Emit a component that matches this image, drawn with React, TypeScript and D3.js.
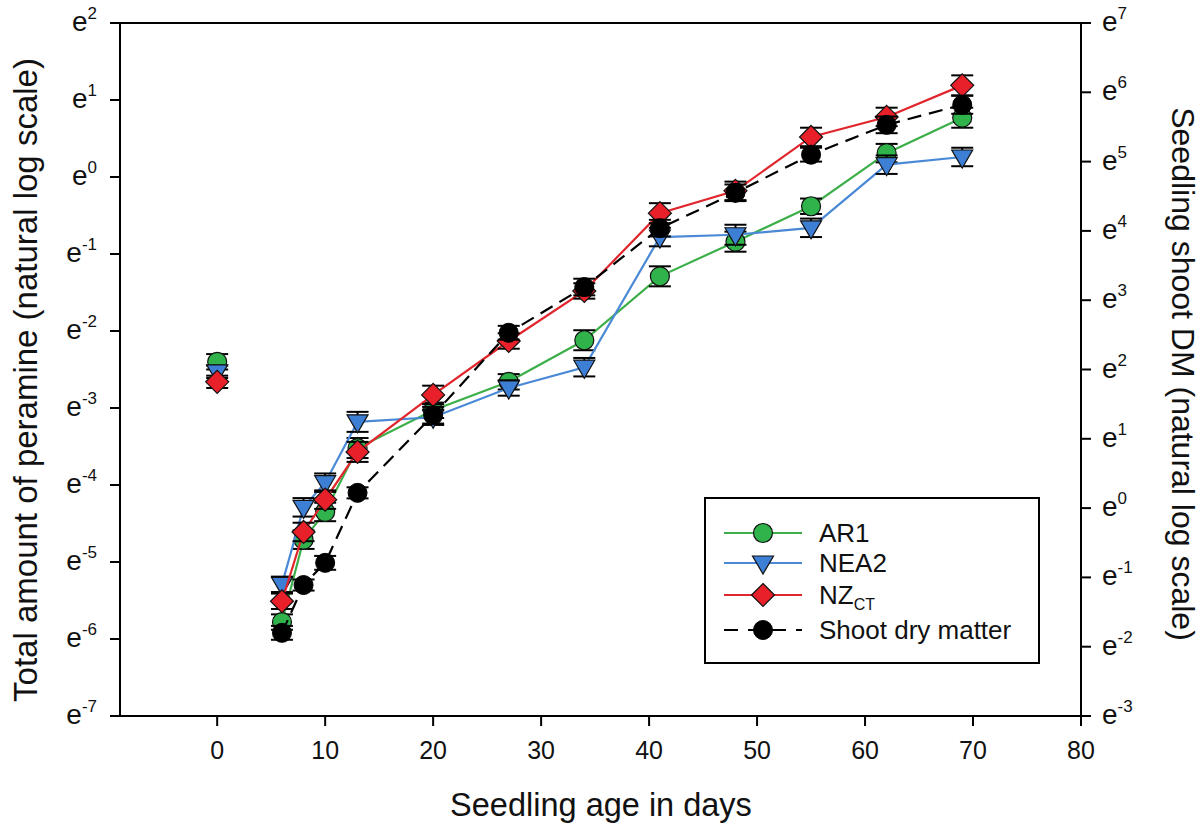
import React from 'react';
import * as d3 from 'd3';

// ---- data (natural log values) ----
const days = [0, 6, 8, 10, 13, 20, 27, 34, 41, 48, 55, 62, 69];
const ar1 = [-2.40, -5.78, -4.71, -4.35, -3.52, -3.03, -2.66, -2.12, -1.29, -0.84, -0.38, 0.31, 0.77];
const ar1Err = [0.10, 0.10, 0.12, 0.12, 0.13, 0.10, 0.10, 0.13, 0.13, 0.13, 0.10, 0.12, 0.13];
const nea2 = [-2.53, -5.29, -4.29, -3.97, -3.18, -3.12, -2.74, -2.47, -0.78, -0.75, -0.66, 0.16, 0.26];
const nea2Err = [0.08, 0.10, 0.12, 0.12, 0.13, 0.10, 0.10, 0.12, 0.12, 0.13, 0.12, 0.12, 0.12];
const nzct = [-2.66, -5.51, -4.61, -4.19, -3.57, -2.83, -2.13, -1.48, -0.47, -0.18, 0.52, 0.78, 1.19];
const nzctErr = [0.08, 0.10, 0.12, 0.12, 0.13, 0.12, 0.10, 0.10, 0.13, 0.12, 0.12, 0.12, 0.13];
const dmDays = [6, 8, 10, 13, 20, 27, 34, 41, 48, 55, 62, 69];
const dm = [-1.80, -1.11, -0.79, 0.22, 1.34, 2.53, 3.19, 4.04, 4.55, 5.10, 5.53, 5.82];
const dmErr = [0.10, 0.08, 0.10, 0.08, 0.12, 0.10, 0.12, 0.12, 0.12, 0.10, 0.12, 0.13];

const xTicks = [0, 10, 20, 30, 40, 50, 60, 70, 80];
const leftTicks = [-7, -6, -5, -4, -3, -2, -1, 0, 1, 2];
const rightTicks = [-3, -2, -1, 0, 1, 2, 3, 4, 5, 6, 7];

const seriesNames = ['AR1', 'NEA2', 'NZ', 'Shoot dry matter'];

// ---- layout ----
const X0 = 120, X1 = 1081, Y0 = 23, Y1 = 716;
const FONT = '"Liberation Sans", Arial, sans-serif';

const x = d3.scaleLinear().domain([-9, 80]).range([X0, X1]);
const yL = d3.scaleLinear().domain([-7, 2]).range([Y1, Y0]);
const yR = d3.scaleLinear().domain([-3, 7]).range([Y1, Y0]);

const GREEN = '#2fb34a', GREEN_L = '#3daf4a';
const BLUE = '#3d7fd4', BLUE_L = '#4a89d6';
const RED = '#e8202a', RED_L = '#e0262c';

type Pt = { d: number; v: number; e: number };

function toPts(ds: number[], vs: number[], es: number[]): Pt[] {
  return ds.map((d, i) => ({ d, v: vs[i], e: es[i] }));
}

function Marker({ kind, cx, cy, fill }: { kind: string; cx: number; cy: number; fill: string }) {
  if (kind === 'circle') return <circle cx={cx} cy={cy} r={9.5} fill={fill} stroke="#111" strokeWidth={1.2} />;
  if (kind === 'tri') {
    const s = 10.5;
    return <path d={`M${cx - s},${cy - 7} L${cx + s},${cy - 7} L${cx},${cy + 11} Z`} fill={fill} stroke="#111" strokeWidth={1.2} />;
  }
  if (kind === 'diamond') {
    const s = 11.5;
    return <path d={`M${cx},${cy - s} L${cx + s},${cy} L${cx},${cy + s} L${cx - s},${cy} Z`} fill={fill} stroke="#111" strokeWidth={1.2} />;
  }
  return <circle cx={cx} cy={cy} r={9.5} fill="#000" stroke="#000" strokeWidth={1} />;
}

function Series({ pts, y, kind, fill, line, dash }: { pts: Pt[]; y: d3.ScaleLinear<number, number>; kind: string; fill: string; line: string; dash?: string }) {
  const gen = d3.line<Pt>().x(p => x(p.d)).y(p => y(p.v));
  const linePts = pts.filter(p => p.d > 0);
  return (
    <g>
      <path d={gen(linePts) || ''} fill="none" stroke={line} strokeWidth={2.2} strokeDasharray={dash} />
      {pts.map((p, i) => {
        const cx = x(p.d), yt = y(p.v + p.e), yb = y(p.v - p.e);
        return (
          <g key={'e' + i} stroke="#000" strokeWidth={2}>
            <line x1={cx} x2={cx} y1={yt} y2={yb} />
            <line x1={cx - 11} x2={cx + 11} y1={yt} y2={yt} />
            <line x1={cx - 11} x2={cx + 11} y1={yb} y2={yb} />
          </g>
        );
      })}
      {pts.map((p, i) => <Marker key={'m' + i} kind={kind} cx={x(p.d)} cy={y(p.v)} fill={fill} />)}
    </g>
  );
}

function ExpLabel({ v, px, py, anchor }: { v: number; px: number; py: number; anchor: string }) {
  return (
    <text x={px} y={py} textAnchor={anchor} fontFamily={FONT} fontSize={28} fill="#111">
      <tspan>e</tspan>
      <tspan dy={-12} fontSize={17}>{v < 0 ? '-' + Math.abs(v) : String(v)}</tspan>
    </text>
  );
}

export default function App() {
  const legendRows = [
    { kind: 'circle', fill: GREEN, line: GREEN_L },
    { kind: 'tri', fill: BLUE, line: BLUE_L },
    { kind: 'diamond', fill: RED, line: RED_L },
    { kind: 'black', fill: '#000', line: '#000' },
  ];
  const legY = [533, 563, 595, 630];
  return (
    <svg width={1204} height={830} style={{ position: 'absolute', left: 0, top: 0, background: '#fff' }}>
      <rect x={0} y={0} width={1204} height={830} fill="#fff" />
      {/* frame */}
      <g stroke="#000" strokeWidth={2} fill="none">
        <line x1={X0} x2={X1} y1={Y0} y2={Y0} />
        <line x1={X0} x2={X1} y1={Y1} y2={Y1} />
        <line x1={X0} x2={X0} y1={Y0} y2={Y1} />
        <line x1={X1} x2={X1} y1={Y0} y2={Y1} />
        {leftTicks.map(t => <line key={'lt' + t} x1={X0 - 10} x2={X0} y1={yL(t)} y2={yL(t)} />)}
        {rightTicks.map(t => <line key={'rt' + t} x1={X1} x2={X1 + 10} y1={yR(t)} y2={yR(t)} />)}
        {xTicks.map(t => <line key={'xt' + t} x1={x(t)} x2={x(t)} y1={Y1} y2={Y1 + 10} />)}
      </g>
      {leftTicks.map(t => <ExpLabel key={'ll' + t} v={t} px={97} py={yL(t) + 8} anchor="end" />)}
      {rightTicks.map(t => <ExpLabel key={'rl' + t} v={t} px={1102} py={yR(t) + 8} anchor="start" />)}
      {xTicks.map(t => (
        <text key={'xl' + t} x={x(t)} y={759} textAnchor="middle" fontFamily={FONT} fontSize={25} fill="#111">{t}</text>
      ))}
      <text x={601} y={816} textAnchor="middle" fontFamily={FONT} fontSize={32.5} fill="#111">Seedling age in days</text>
      <text transform={`translate(37,380) rotate(-90)`} textAnchor="middle" fontFamily={FONT} fontSize={33} fill="#111">Total amount of peramine (natural log scale)</text>
      <text transform={`translate(1172,374) rotate(90)`} textAnchor="middle" fontFamily={FONT} fontSize={32} fill="#111">Seedling shoot DM (natural log scale)</text>

      <Series pts={toPts(days, ar1, ar1Err)} y={yL} kind="circle" fill={GREEN} line={GREEN_L} />
      <Series pts={toPts(days, nea2, nea2Err)} y={yL} kind="tri" fill={BLUE} line={BLUE_L} />
      <Series pts={toPts(days, nzct, nzctErr)} y={yL} kind="diamond" fill={RED} line={RED_L} />
      <Series pts={toPts(dmDays, dm, dmErr)} y={yR} kind="black" fill="#000" line="#000" dash="14 8" />

      {/* legend */}
      <rect x={705} y={498} width={334} height={165} fill="#fff" stroke="#000" strokeWidth={2} />
      {legendRows.map((r, i) => (
        <g key={'lg' + i}>
          <line x1={724} x2={802} y1={legY[i]} y2={legY[i]} stroke={r.line} strokeWidth={2.2} strokeDasharray={i === 3 ? '14 10' : undefined} />
          <Marker kind={r.kind} cx={763} cy={legY[i]} fill={r.fill} />
          <text x={819} y={legY[i] + 9} fontFamily={FONT} fontSize={26} fill="#111">
            {seriesNames[i]}
            {i === 2 ? <tspan dy={6} fontSize={16}>CT</tspan> : null}
          </text>
        </g>
      ))}
    </svg>
  );
}
